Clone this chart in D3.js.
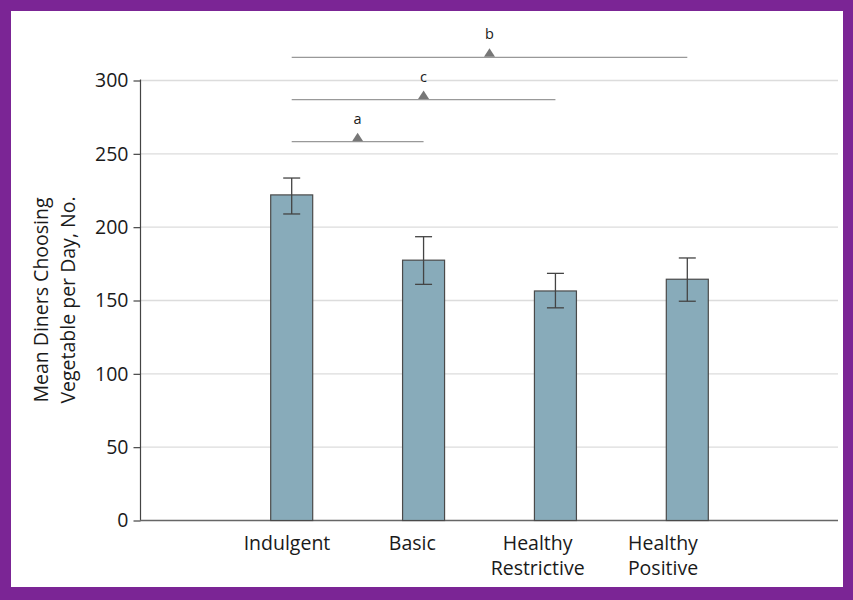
<!DOCTYPE html>
<html>
<head>
<meta charset="utf-8">
<script src="https://cdn.jsdelivr.net/npm/d3@7"></script>
<style>
  html, body { margin: 0; padding: 0; background: #7b2595; }
  svg { display: block; }
  text { font-family: "Open Sans", "Noto Sans", sans-serif; fill: #1a1a1a; }
</style>
</head>
<body>
<div id="chart"></div>
<script>
// data
var categories = ["Indulgent", "Basic", "Healthy Restrictive", "Healthy Positive"];
var labelLines = [["Indulgent"], ["Basic"], ["Healthy", "Restrictive"], ["Healthy", "Positive"]];
var means = [222, 177.5, 156.5, 164.5];
var errLow = [209, 161, 145, 149.5];
var errHigh = [233.5, 193.5, 168.5, 179];
var yTicks = [0, 50, 100, 150, 200, 250, 300];

// pairwise comparisons: from, to, bracket height, letter
var compFrom = ["Indulgent", "Indulgent", "Indulgent"];
var compTo = ["Basic", "Healthy Restrictive", "Healthy Positive"];
var compLevel = [258.3, 287, 315.8];
var compLetter = ["a", "c", "b"];

var W = 853, H = 600;

var svg = d3.select("#chart").append("svg").attr("width", W).attr("height", H);

svg.append("rect").attr("width", W).attr("height", H).attr("fill", "#7b2595");
svg.append("rect").attr("x", 11).attr("y", 11).attr("width", 832).attr("height", 576).attr("fill", "#fff");

var y = d3.scaleLinear().domain([0, 300]).range([520.5, 80.5]);
var x = d3.scalePoint().domain(categories).range([291.7, 687.3]);
// the category labels sit a bit left of the bars in the original
var xl = d3.scalePoint().domain(categories).range([287, 663]);
var barW = 42;

// grid lines
svg.append("g").selectAll("line")
  .data(yTicks.filter(function(d) { return d > 0; }))
  .enter().append("line")
  .attr("x1", 141).attr("x2", 838)
  .attr("y1", function(d) { return y(d); })
  .attr("y2", function(d) { return y(d); })
  .attr("stroke", "#dcdcdc").attr("stroke-width", 1.3);

// y axis
var yAxis = svg.append("g").attr("transform", "translate(140.5,0)")
  .call(d3.axisLeft(y).tickValues(yTicks).tickSize(7).tickPadding(5));
yAxis.select(".domain").attr("stroke", "#444").attr("stroke-width", 1.2).attr("d", "M0," + y(0) + "V" + (y(300) - 1));
yAxis.selectAll(".tick line").attr("stroke", "#444").attr("stroke-width", 1.2);
yAxis.selectAll(".tick text").attr("font-size", 19.5).attr("font-family", "Open Sans, sans-serif").attr("fill", "#1a1a1a");

// x axis baseline
svg.append("line")
  .attr("x1", 140).attr("x2", 838)
  .attr("y1", y(0)).attr("y2", y(0))
  .attr("stroke", "#666").attr("stroke-width", 1.5);

// bars
svg.append("g").selectAll("rect")
  .data(categories)
  .enter().append("rect")
  .attr("x", function(d) { return x(d) - barW / 2; })
  .attr("y", function(d, i) { return y(means[i]); })
  .attr("width", barW)
  .attr("height", function(d, i) { return y(0) - y(means[i]); })
  .attr("fill", "#88abba")
  .attr("stroke", "#4a4a4a").attr("stroke-width", 1.2);

// error bars
var eb = svg.append("g").attr("stroke", "#444").attr("stroke-width", 1.3);
eb.selectAll("line.v").data(categories).enter().append("line").attr("class", "v")
  .attr("x1", function(d) { return x(d); }).attr("x2", function(d) { return x(d); })
  .attr("y1", function(d, i) { return y(errLow[i]); })
  .attr("y2", function(d, i) { return y(errHigh[i]); });
eb.selectAll("line.hi").data(categories).enter().append("line").attr("class", "hi")
  .attr("x1", function(d) { return x(d) - 8.5; }).attr("x2", function(d) { return x(d) + 8.5; })
  .attr("y1", function(d, i) { return y(errHigh[i]); })
  .attr("y2", function(d, i) { return y(errHigh[i]); });
eb.selectAll("line.lo").data(categories).enter().append("line").attr("class", "lo")
  .attr("x1", function(d) { return x(d) - 8.5; }).attr("x2", function(d) { return x(d) + 8.5; })
  .attr("y1", function(d, i) { return y(errLow[i]); })
  .attr("y2", function(d, i) { return y(errLow[i]); });

// comparison brackets
var cmp = svg.append("g").selectAll("g")
  .data(compLetter)
  .enter().append("g");
cmp.append("line")
  .attr("x1", function(d, i) { return x(compFrom[i]); })
  .attr("x2", function(d, i) { return x(compTo[i]); })
  .attr("y1", function(d, i) { return y(compLevel[i]); })
  .attr("y2", function(d, i) { return y(compLevel[i]); })
  .attr("stroke", "#999").attr("stroke-width", 1.3);
cmp.append("path")
  .attr("d", function(d, i) {
    var cx = (x(compFrom[i]) + x(compTo[i])) / 2, cy = y(compLevel[i]);
    return "M" + (cx - 5.5) + "," + (cy - 0.5) + "L" + (cx + 5.5) + "," + (cy - 0.5) + "L" + cx + "," + (cy - 9) + "Z";
  })
  .attr("fill", "#777");
cmp.append("text")
  .attr("x", function(d, i) { return (x(compFrom[i]) + x(compTo[i])) / 2; })
  .attr("y", function(d, i) { return y(compLevel[i]) - 18; })
  .attr("text-anchor", "middle")
  .attr("font-size", 14.5)
  .text(function(d) { return d; });

// category labels
var xlab = svg.append("g").selectAll("text")
  .data(categories)
  .enter().append("text")
  .attr("text-anchor", "middle")
  .attr("font-size", 19.5)
  .attr("x", function(d) { return xl(d); })
  .attr("y", 550);
xlab.selectAll("tspan")
  .data(function(d, i) { return labelLines[i]; })
  .enter().append("tspan")
  .attr("x", function() { return xl(d3.select(this.parentNode).datum()); })
  .attr("dy", function(d, j) { return j === 0 ? 0 : 25; })
  .text(function(d) { return d; });

// y axis title
svg.append("text")
  .attr("transform", "translate(48,300) rotate(-90)")
  .attr("text-anchor", "middle")
  .attr("font-size", 19.5)
  .selectAll("tspan")
  .data(["Mean Diners Choosing", "Vegetable per Day, No."])
  .enter().append("tspan")
  .attr("x", 0)
  .attr("dy", function(d, j) { return j === 0 ? 0 : 27; })
  .text(function(d) { return d; });
</script>
</body>
</html>
